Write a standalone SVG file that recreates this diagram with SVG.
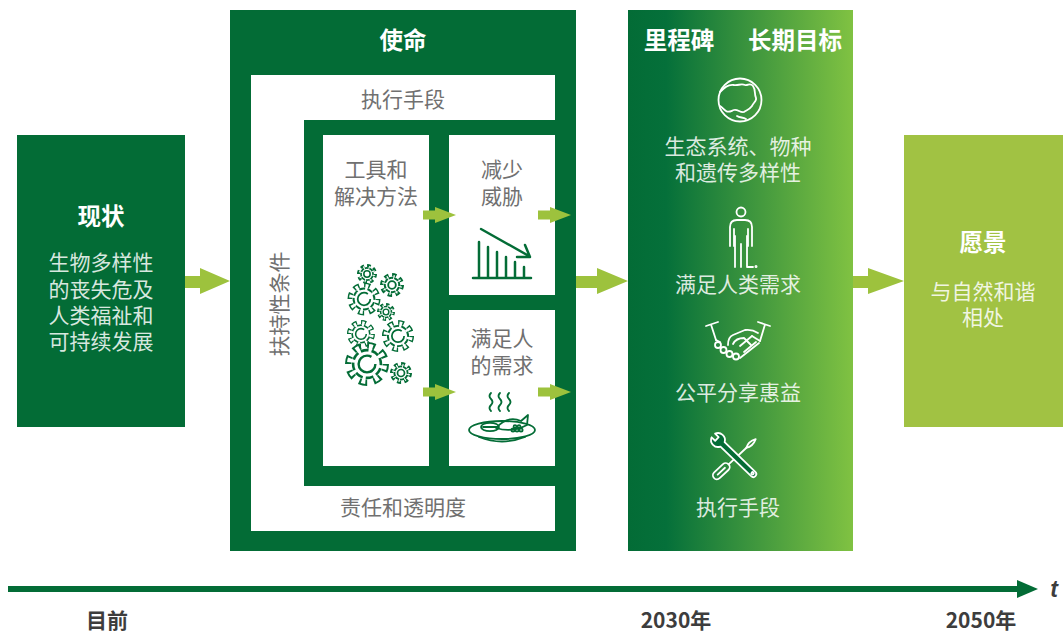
<svg xmlns="http://www.w3.org/2000/svg" width="1063" height="632" viewBox="0 0 1063 632">
  <defs>
    <style>
      .t{font-family:"Noto Sans CJK SC","Noto Sans",sans-serif;text-anchor:middle}
      .h{font-size:23.5px;font-weight:700;fill:#fff}
      .g{font-size:21px;fill:#707070}
      .w{font-size:21px;fill:#fff;fill-opacity:.85}
      .ax{font-size:21px;font-weight:700;fill:#3d3d3d}
      .ig{fill:none;stroke:#036c36;stroke-width:2.2;stroke-linecap:round;stroke-linejoin:round}
      .iw{fill:none;stroke:#fff;stroke-width:1.8;stroke-linecap:round;stroke-linejoin:round}
      .ar{fill:#9dc23d}
    </style>
    <linearGradient id="ms" gradientUnits="userSpaceOnUse" x1="628" y1="0" x2="853" y2="0">
      <stop offset="0" stop-color="#036c36"/>
      <stop offset="0.17" stop-color="#05703a"/>
      <stop offset="1" stop-color="#80c242"/>
    </linearGradient>
    <!-- outlined gear, 8 teeth; dash lengths are arc lengths on each ring -->
    <symbol id="gear" viewBox="-12 -12 24 24">
      <circle r="7.6" fill="#036c36"/>
      <circle r="9.4" fill="none" stroke="#036c36" stroke-width="3.2" stroke-dasharray="4.06 3.32" stroke-dashoffset="0.18"/>
      <circle r="6.3" fill="#fff"/>
      <circle r="8" fill="none" stroke="#fff" stroke-width="4" stroke-dasharray="1.76 4.52" stroke-dashoffset="-0.69"/>
      <circle r="4.2" fill="none" stroke="#036c36" stroke-width="1.2" stroke-dasharray="22 4.4"/>
      <circle cx="2.2" cy="3.6" r="0.6" fill="#036c36"/>
    </symbol>
    <!-- smaller gear with heavier outline -->
    <symbol id="gearS" viewBox="-12 -12 24 24">
      <circle r="7.6" fill="#036c36"/>
      <circle r="9.4" fill="none" stroke="#036c36" stroke-width="3.2" stroke-dasharray="4.06 3.32" stroke-dashoffset="0.18"/>
      <circle r="5.7" fill="#fff"/>
      <circle r="7.2" fill="none" stroke="#fff" stroke-width="4" stroke-dasharray="1.0 4.65" stroke-dashoffset="-1.07"/>
      <circle r="3.5" fill="none" stroke="#036c36" stroke-width="1.7"/>
    </symbol>
    <path id="arrS" d="M0,-4.5 H12 V-8 L33,0 L12,8 V4.5 H0 Z"/>
  </defs>

  <rect width="1063" height="632" fill="#fff"/>

  <!-- current state -->
  <g id="current">
    <rect x="17" y="135" width="168" height="292" fill="#036c36"/>
    <text class="t h" x="101" y="225">现状</text>
    <text class="t w" x="101" y="270">生物多样性</text>
    <text class="t w" x="101" y="297">的丧失危及</text>
    <text class="t w" x="101" y="323">人类福祉和</text>
    <text class="t w" x="101" y="349">可持续发展</text>
  </g>

  <!-- mission -->
  <g id="mission">
    <rect x="230" y="10" width="346" height="541" fill="#036c36"/>
    <text class="t h" x="403" y="49">使命</text>
    <rect x="251" y="75" width="304" height="456" fill="#fff"/>
    <rect x="304" y="120" width="272" height="366" fill="#036c36"/>
    <text class="t g" x="403" y="107">执行手段</text>
    <text class="t g" x="403" y="515">责任和透明度</text>
    <text class="t g" transform="translate(280,304) rotate(-90)" x="0" y="7">扶持性条件</text>
  </g>

  <g id="tools">
    <rect x="323" y="135" width="106" height="331" fill="#fff"/>
    <text class="t g" x="376" y="177">工具和</text>
    <text class="t g" x="376" y="204">解决方法</text>
    <use href="#gear" x="346" y="281" width="36" height="36"/>
    <use href="#gear" x="345.7" y="318.7" width="30.5" height="30.5"/>
    <use href="#gear" x="380.5" y="318.5" width="35" height="35"/>
    <use href="#gear" x="343" y="340" width="48" height="48"/>
    <use href="#gearS" x="356.1" y="263.1" width="21.8" height="21.8"/>
    <use href="#gearS" x="378.9" y="271.9" width="26.2" height="26.2"/>
    <use href="#gearS" x="376.2" y="302.2" width="19.6" height="19.6"/>
    <use href="#gearS" x="389" y="361" width="24" height="24"/>
  </g>

  <g id="reduce-threats">
    <rect x="449" y="135" width="106" height="160" fill="#fff"/>
    <text class="t g" x="502" y="177">减少</text>
    <text class="t g" x="502" y="204">威胁</text>
    <path class="ig" style="stroke-width:2.5" d="M473,278 H531 M479,278 V242 M488,278 V247 M497,278 V252 M506,278 V257 M515,278 V262 M524,278 V267"/>
    <path class="ig" style="stroke-width:2.5" d="M481,229 L529,256 M517,257 H530 L525,245"/>
  </g>

  <g id="human-needs">
    <rect x="449" y="310" width="106" height="156" fill="#fff"/>
    <text class="t g" x="502" y="346">满足人</text>
    <text class="t g" x="502" y="373">的需求</text>
    <g class="ig" style="stroke-width:1.8">
      <path d="M491,393 q-3,3 0,6 q3,3 0,6 q-3,3 0,6"/>
      <path d="M500,393 q-3,3 0,6 q3,3 0,6 q-3,3 0,6"/>
      <path d="M509,393 q-3,3 0,6 q3,3 0,6 q-3,3 0,6"/>
      <ellipse cx="502" cy="430" rx="33" ry="9"/>
      <path d="M479,437 Q502,446 525,437"/>
      <ellipse cx="490" cy="427" rx="9" ry="4.2"/>
      <path d="M483,427 H497"/>
      <path d="M496,428 Q508,415 521,421 L528,415 L527,425 Q512,433 496,428 Z"/>
      <circle cx="513" cy="430" r="1.6"/>
      <circle cx="517" cy="430" r="1.6"/>
      <circle cx="521" cy="430" r="1.6"/>
      <circle cx="515" cy="426.5" r="1.4"/>
      <circle cx="519" cy="426.5" r="1.4"/>
    </g>
  </g>

  <!-- milestones and long-term goals -->
  <g id="milestones">
    <rect x="628" y="10" width="225" height="541" fill="url(#ms)"/>
    <text class="t h" x="679" y="49">里程碑</text>
    <text class="t h" x="795" y="49">长期目标</text>
    <g class="iw">
      <circle cx="740" cy="100" r="21.5"/>
      <path d="M720,92 C724,88 728,84 734,85 C738,86 741,83 745,85 C748,86 750,82 753,86 C756,90 754,94 756,98 C757,101 753,103 752,106 C750,109 747,110 744,112 C740,113 738,109 734,110 C731,111 729,113 726,111 C723,109 722,107 720,106"/>
      <path d="M737,116 C740,118 743,117 746,119"/>
    </g>
    <text class="t w" x="738" y="154">生态系统、物种</text>
    <text class="t w" x="738" y="180">和遗传多样性</text>
    <g class="iw">
      <circle cx="741" cy="212" r="4.5"/>
      <path d="M730,246 V227 Q730,220 737,220 H745 Q752,220 752,227 V246"/>
      <path d="M734,246 V229 M748,246 V229"/>
      <path d="M735,236 V267 M741,244 V267 M747,236 V267 H753"/>
      <circle cx="756" cy="266.5" r="0.6" fill="#fff"/>
    </g>
    <text class="t w" x="738" y="292">满足人类需求</text>
    <g class="iw">
      <path d="M706,326 L718,322 M711,324.5 L716,340"/>
      <path d="M758,322 L770,326 M765,324.5 L760,341"/>
      <circle cx="718" cy="345" r="3"/>
      <circle cx="723.5" cy="350" r="3"/>
      <circle cx="729.5" cy="354" r="3"/>
      <circle cx="736" cy="356.5" r="3"/>
      <path d="M716,340 L720,342"/>
      <path d="M740,358 L759,343 M744,352 L756,342 M740,346 L752,336"/>
      <path d="M752,336 L760,341"/>
      <path d="M728,345 Q728,337 733,335 L745,330 Q752,329 758,333"/>
      <path d="M733,344 Q736,338 744,338 L751,345"/>
    </g>
    <text class="t w" x="738" y="400">公平分享惠益</text>
    <g class="iw">
      <g transform="translate(714,478) rotate(-43)">
        <rect x="0" y="-4" width="20" height="8" rx="4"/>
        <path d="M5,0 H15 M20,0 H44"/>
        <path d="M44,0 Q50,-3.5 57,0 Q50,3.5 44,0 Z"/>
      </g>
      <g transform="translate(718,440) rotate(44)">
        <path fill="url(#ms)" d="M-6.5,-2.5 L-1.5,-2.5 L-1.5,2.5 L-6.5,2.5 A7,7 0 0 0 6.3,3 L49,3 A3,3 0 0 0 49,-3 L6.3,-3 A7,7 0 0 0 -6.5,-2.5 Z"/>
        <circle cx="48" cy="0" r="1.2"/>
      </g>
    </g>
    <text class="t w" x="738" y="515">执行手段</text>
  </g>

  <!-- vision -->
  <g id="vision">
    <rect x="904" y="135" width="159" height="292" fill="#a1c243"/>
    <text class="t h" x="983" y="251">愿景</text>
    <text class="t w" x="983" y="299">与自然和谐</text>
    <text class="t w" x="983" y="325">相处</text>
  </g>

  <!-- flow arrows -->
  <g id="connectors">
    <path class="ar" d="M185,276 H200 V268 L230,281 L200,294 V288 H185 Z"/>
    <path class="ar" d="M576,276 H597 V268 L628,281 L597,294 V288 H576 Z"/>
    <path class="ar" d="M853,276 H868 V268 L904,281 L868,294 V288 H853 Z"/>
    <use class="ar" href="#arrS" x="423" y="215"/>
    <use class="ar" href="#arrS" x="538" y="215"/>
    <use class="ar" href="#arrS" x="423" y="392"/>
    <use class="ar" href="#arrS" x="538" y="392"/>
  </g>

  <!-- time axis -->
  <g id="timeline">
    <rect x="8" y="586" width="1012" height="6" fill="#036c36"/>
    <path d="M1017,580 L1038,589 L1017,598 Z" fill="#036c36"/>
    <text x="1054" y="597" style="font-family:'Liberation Sans',sans-serif;font-size:23px;font-style:italic;font-weight:700;fill:#3d3d3d;text-anchor:middle">t</text>
    <text class="t ax" x="107" y="628">目前</text>
    <text class="t ax" x="676" y="628">2030年</text>
    <text class="t ax" x="981" y="628">2050年</text>
  </g>
</svg>
